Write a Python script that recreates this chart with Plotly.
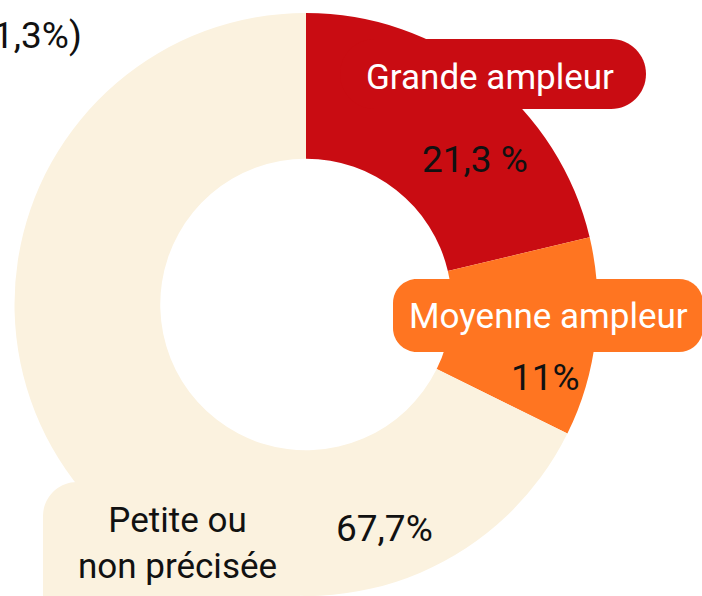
import plotly.graph_objects as go

# ---- data ----
categories = ["Grande ampleur", "Moyenne ampleur", "Petite ou non précisée"]
values = [21.3, 11, 67.7]
value_labels = ["21,3 %", "11%", "67,7%"]
category_labels = ["Grande ampleur", "Moyenne ampleur", "Petite ou<br>non précisée"]
colors = ["#C90C12", "#FF7521", "#FBF2DF"]
label_text_colors = ["#FFFFFF", "#FFFFFF", "#111111"]
cut_text = "1,3%)"

# ---- layout helpers (pixels -> paper) ----
W, H = 702, 596
ML, MR, MT, MB = 0, 0, 13, 0
PW, PH = W - ML - MR, H - MT - MB


def px(x):
    return (x - ML) / PW


def py(y):
    return (H - MB - y) / PH


K = 0.5523


def rrect(x0, y0, x1, y1, rtl, rtr, rbr, rbl):
    pts = []
    pts.append(f"M{px(x0 + rtl)},{py(y0)}")
    pts.append(f"L{px(x1 - rtr)},{py(y0)}")
    pts.append(f"C{px(x1 - rtr + K * rtr)},{py(y0)} {px(x1)},{py(y0 + rtr - K * rtr)} {px(x1)},{py(y0 + rtr)}")
    pts.append(f"L{px(x1)},{py(y1 - rbr)}")
    pts.append(f"C{px(x1)},{py(y1 - rbr + K * rbr)} {px(x1 - rbr + K * rbr)},{py(y1)} {px(x1 - rbr)},{py(y1)}")
    pts.append(f"L{px(x0 + rbl)},{py(y1)}")
    pts.append(f"C{px(x0 + rbl - K * rbl)},{py(y1)} {px(x0)},{py(y1 - rbl + K * rbl)} {px(x0)},{py(y1 - rbl)}")
    pts.append(f"L{px(x0)},{py(y0 + rtl)}")
    pts.append(f"C{px(x0)},{py(y0 + rtl - K * rtl)} {px(x0 + rtl - K * rtl)},{py(y0)} {px(x0 + rtl)},{py(y0)}")
    pts.append("Z")
    return " ".join(pts)


cx, r = 306, 291.5

fig = go.Figure(
    go.Pie(
        labels=categories,
        values=values,
        marker=dict(colors=colors, line=dict(width=0)),
        hole=0.5,
        sort=False,
        direction="clockwise",
        rotation=0,
        textinfo="none",
        hoverinfo="label+percent",
        domain=dict(x=[px(cx - r), px(cx + r)], y=[0, 1]),
        showlegend=False,
    )
)

# label boxes (pixel rectangles)
boxes = [
    (340, 39, 646, 109, 35, 35, 35, 35),
    (393, 279, 703, 352, 24, 24, 24, 24),
    (43, 482, 300, 640, 34, 0, 0, 0),
]
shapes = []
for i, b in enumerate(boxes):
    shapes.append(dict(type="path", path=rrect(*b), xref="paper", yref="paper",
                       fillcolor=colors[i], line=dict(width=0), layer="above"))

FONT = "Roboto"
FS = 35
FSV = 37

cat_pos = [(490, 77), (548, 316), (177, 543)]
val_pos = [(475, 160), (545, 378), (384, 528)]

annotations = []
for i in range(3):
    annotations.append(dict(x=px(cat_pos[i][0]), y=py(cat_pos[i][1]), xref="paper", yref="paper",
                            text=category_labels[i], showarrow=False, xanchor="center", yanchor="middle",
                            font=dict(family=FONT, size=FS, color=label_text_colors[i])))
    annotations.append(dict(x=px(val_pos[i][0]), y=py(val_pos[i][1]), xref="paper", yref="paper",
                            text=value_labels[i], showarrow=False, xanchor="center", yanchor="middle",
                            font=dict(family=FONT, size=FSV, color="#111111")))
annotations.append(dict(x=px(84), y=py(35), xref="paper", yref="paper", text=cut_text,
                        showarrow=False, xanchor="right", yanchor="middle",
                        font=dict(family=FONT, size=FSV, color="#111111")))

fig.update_layout(
    width=W, height=H,
    margin=dict(l=ML, r=MR, t=MT, b=MB),
    paper_bgcolor="white", plot_bgcolor="white",
    shapes=shapes, annotations=annotations,
)

fig.write_html("out.html")
